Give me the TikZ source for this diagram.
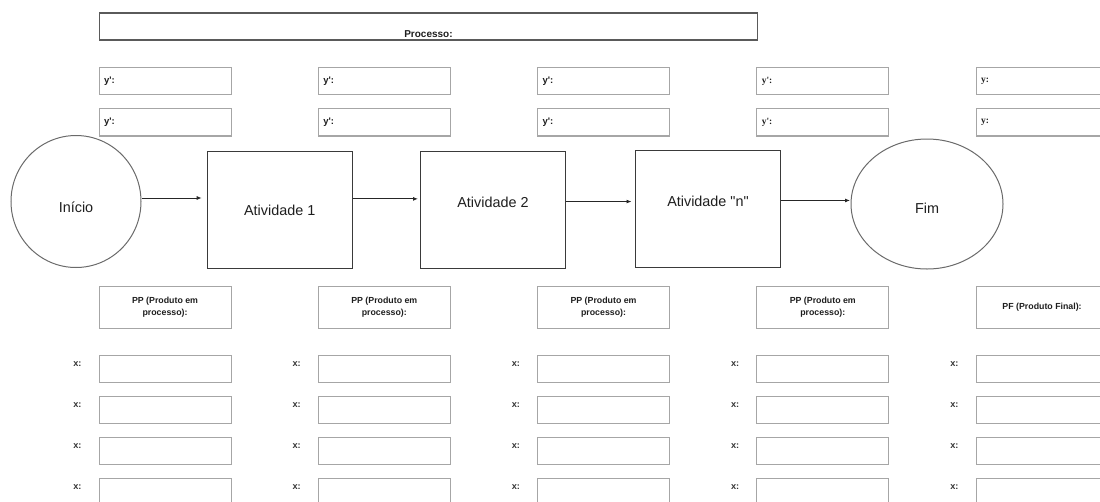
\documentclass[tikz,border=0pt]{standalone}
\usepackage{fontspec}
\setmainfont{Liberation Sans}[Ligatures=TeXOff]
\newfontfamily\serifb{Liberation Serif}[Ligatures=TeXOff]
\usetikzlibrary{shapes.geometric,arrows.meta}
\definecolor{lightb}{HTML}{A6A6A6}
\definecolor{procgray}{HTML}{5A5A5A}
\definecolor{actgray}{HTML}{3A3A3A}
\definecolor{circgray}{HTML}{6A6A6A}
\definecolor{txt}{HTML}{1E1E1E}
\begin{document}
\begin{tikzpicture}[x=1pt,y=-1pt,
  procbox/.style={draw=procgray,line width=1.5pt,minimum width=658pt,minimum height=27pt,anchor=north west,inner sep=0pt},
  ybox/.style={draw=lightb,line width=1.1pt,minimum width=132pt,minimum height=27.5pt,anchor=north west,inner sep=0pt},
  ppbox/.style={draw=lightb,line width=1.1pt,minimum width=132pt,minimum height=41.7pt,anchor=north west,inner sep=0pt,
     align=center,font=\fontsize{8.8}{12.5}\selectfont\bfseries,text=txt},
  xbox/.style={draw=lightb,line width=1.1pt,minimum width=132pt,minimum height=27pt,anchor=north west,inner sep=0pt},
  actbox/.style={draw=actgray,line width=1pt,minimum width=145pt,minimum height=116.7pt,anchor=north west,inner sep=0pt},
  endnode/.style={draw=circgray,line width=1pt,ellipse,inner sep=0pt},
  bigtxt/.style={font=\fontsize{14.4}{16}\selectfont,text=txt},
  ylbl/.style={anchor=west,xshift=2pt,font=\fontsize{9.5}{11}\selectfont\bfseries,text=txt},
  xlbl/.style={font=\fontsize{9.2}{11}\selectfont\bfseries,text=txt!90},
  arr/.style={-{Latex[length=5pt,width=4pt]},line width=0.9pt,draw=black!85,shorten >=2pt}
]
\useasboundingbox (0,0) rectangle (1100,501);
\clip (0,0) rectangle (1100,501);

% Process header
\node[procbox,label={[yshift=-7.5pt,font=\fontsize{10}{12}\selectfont\bfseries,text=txt]center:Processo:}] (proc) at (98.7,12.3) {};

% columns
\foreach \i/\lab/\fnt in {0/{y':}/{}, 1/{y':}/{}, 2/{y':}/{}, 3/{y':}/\serifb, 4/{y:}/\serifb} {
  \pgfmathsetmacro\cx{98.5+219.25*\i}
  \node[ybox,label={[ylbl]west:{\fnt\lab}}] (ya-\i) at (\cx,66.7) {};
  \node[ybox,label={[ylbl]west:{\fnt\lab}}] (yb-\i) at (\cx,107.9) {};
  \foreach \r/\ry in {1/355, 2/396.2, 3/437.3, 4/478.3} {
    \node[xbox,label={[xlbl,label distance=13.5pt,yshift=5pt]left:x:}] (x\r-\i) at (\cx,\ry) {};
  }
}
\foreach \i in {0,...,3} {
  \pgfmathsetmacro\cx{98.5+219.25*\i}
  \node[ppbox] (pp-\i) at (\cx,286) {PP (Produto em\\processo):};
}
\node[ppbox] (pp-4) at (975.5,286) {PF (Produto Final):};

% flow
\node[endnode,minimum width=130pt,minimum height=132pt,
  label={[bigtxt,yshift=-6pt]center:Início}] (ini) at (76,201.5) {};
\node[actbox,label={[bigtxt,yshift=-0.7pt]center:Atividade 1}] (a1) at (206.7,151) {};
\node[actbox,label={[bigtxt,yshift=7.6pt]center:Atividade 2}] (a2) at (420,151) {};
\node[actbox,label={[bigtxt,yshift=7.7pt]center:Atividade "n"}] (an) at (635,150.3) {};
\node[endnode,minimum width=152pt,minimum height=130pt,
  label={[bigtxt,yshift=-4pt]center:Fim}] (fim) at (927,204) {};

\draw[arr,shorten >=5pt] ([yshift=3.5pt]ini.east) -- ([yshift=3.5pt]ini.east -| a1.west);
\draw[arr] ([yshift=11pt]a1.east) -- ([yshift=11pt]a1.east -| a2.west);
\draw[arr,shorten >=3.5pt] ([yshift=8.3pt]a2.east) -- ([yshift=8.3pt]a2.east -| an.west);
\draw[arr,shorten >=0.5pt] ([yshift=8.7pt]an.east) -- ([yshift=8.7pt]an.east -| fim.west);
\end{tikzpicture}
\end{document}
